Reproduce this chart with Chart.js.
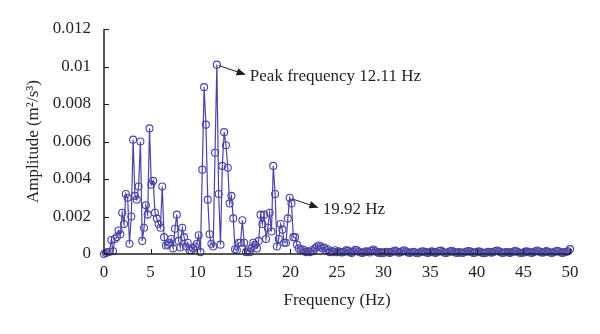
<!DOCTYPE html>
<html>
<head>
<meta charset="utf-8">
<script src="https://cdn.jsdelivr.net/npm/chart.js@4/dist/chart.umd.min.js"></script>
<style>
  html, body { margin: 0; padding: 0; background: #fff; }
</style>
</head>
<body>
<canvas id="mainChart" width="600" height="334"></canvas>
<script>
/*
Amplitude spectrum. One value per FFT bin (0 - 50 Hz).
*/

// spectrum amplitude, m^2/s^3, bins 0..256
var amplitude = [
    // 0 - 9
    0, 0.00005, 0.0001, 0.00012, 0.00075, 0.00015, 0.0008, 0.0009, 0.00125, 0.00105,
    // 10 - 19
    0.0022, 0.0016, 0.0032, 0.003, 0.00055, 0.002, 0.0061, 0.0031, 0.0029, 0.0036,
    // 20 - 29
    0.006, 0.0007, 0.0014, 0.0026, 0.0021, 0.0067, 0.0037, 0.0039, 0.0022, 0.0019,
    // 30 - 39
    0.0016, 0.0014, 0.0036, 0.0009, 0.00045, 0.0005, 0.0006, 0.0008, 0.0003, 0.00135,
    // 40 - 49
    0.0021, 0.0007, 0.00035, 0.0014, 0.0009, 0.0004, 0.0006, 0.0002, 0.0002, 0.0003,
    // 50 - 59
    0.0004, 0.00055, 0.001, 0.0001, 0.0045, 0.0089, 0.0069, 0.0029, 0.00105, 0.00055,
    // 60 - 69
    0.0004, 0.0054, 0.0101, 0.0032, 0.0005, 0.0047, 0.0065, 0.0058, 0.0046, 0.0027,
    // 70 - 79
    0.0031, 0.0019, 0.00025, 0.0002, 0.0006, 0.0006, 0.0018, 0.0006, 0.0001, 0.0002,
    // 80 - 89
    0.0001, 0.0003, 0.0006, 0.0005, 0.0003, 0.0007, 0.0021, 0.0016, 0.0021, 0.0008,
    // 90 - 99
    0.0014, 0.0022, 0.0012, 0.0047, 0.0032, 0.0004, 0.0008, 0.0016, 0.0013, 0.0006,
    // 100 - 109
    0.0006, 0.0019, 0.003, 0.0027, 0.0009, 0.0009, 0.0005, 0.0003, 0.0002, 0.00025,
    // 110 - 119
    0.0002, 0.0001, 0.00015, 0.0001, 0.0002, 0.00015, 0.0003, 0.0004, 0.00045, 0.0004,
    // 120 - 128
    0.0003, 0.00035, 0.0002, 0.00025, 0.0001, 0.00015, 0.0001, 0.0002, 0.0001,
    // 129 - 140
    0.00015, 0.0001, 0.00008, 0.00012, 0.0002, 0.00018, 0.0001, 0.00006, 0.00012, 0.00022, 0.0002, 0.00012,
    // 141 - 152
    0.00008, 0.00005, 0.0001, 0.00015, 0.00012, 0.00008, 0.00018, 0.00024, 0.00016, 0.0001, 0.00006, 0.0001,
    // 153 - 164
    0.00004, 0.00008, 0.00012, 0.0001, 0.00006, 0.00009, 0.00014, 0.00018, 0.00012, 0.00007, 0.0001, 0.00016,
    // 165 - 176
    0.0002, 0.00013, 0.00008, 0.00005, 0.00009, 0.00012, 0.00008, 0.00004, 0.00007, 0.00011, 0.00015, 0.00012,
    // 177 - 188
    0.00008, 0.00006, 0.0001, 0.00014, 0.00011, 0.00006, 0.00009, 0.00016, 0.00018, 0.00012, 0.00007, 0.00005,
    // 189 - 200
    0.00009, 0.00013, 0.00017, 0.00012, 0.00008, 0.00006, 0.0001, 0.00008, 0.00005, 0.00009, 0.00012, 0.00016,
    // 201 - 212
    0.00014, 0.00009, 0.00006, 0.00008, 0.00012, 0.00015, 0.0001, 0.00006, 0.00004, 0.00008, 0.00012, 0.0001,
    // 213 - 224
    0.00007, 0.00011, 0.00016, 0.00019, 0.00014, 0.00009, 0.00006, 0.00008, 0.00011, 0.00009, 0.00006, 0.0001,
    // 225 - 236
    0.00013, 0.00017, 0.00012, 0.00008, 0.00005, 0.00007, 0.0001, 0.00014, 0.00012, 0.00008, 0.00006, 0.0001,
    // 237 - 248
    0.00015, 0.00019, 0.00013, 0.00009, 0.00007, 0.00011, 0.00016, 0.00012, 0.00008, 0.00005, 0.00009, 0.00013,
    // 249 - 256
    0.00017, 0.00013, 0.00008, 0.00006, 0.0001, 0.00012, 0.00015, 0.00026
];

// FFT bin spacing: 100 Hz sampling, 512 points
var binWidth = 100 / 512;
var frequency = amplitude.map(function (v, i) { return i * binWidth; });

// axis ticks
var xTicks = [0, 5, 10, 15, 20, 25, 30, 35, 40, 45, 50];
var yTicks = [0, 0.002, 0.004, 0.006, 0.008, 0.01, 0.012];

// labelled peaks (bin index + text)
var peakBins = [62, 102];
var peakLabels = ['Peak frequency 12.11 Hz', '19.92 Hz'];

var FONT = "'Liberation Serif', 'DejaVu Serif', serif";
var INK = '#231f20';
var LINE = '#4a45a6';

/**
 * Draw axis lines, inward tick marks and the arrow notes.
 */
var decorations = {
    id: 'decorations',
    afterDatasetsDraw: function (chart) {
        var ctx = chart.ctx;
        var xs = chart.scales.x;
        var ys = chart.scales.y;
        var area = chart.chartArea;

        ctx.save();
        ctx.strokeStyle = INK;
        ctx.lineWidth = 1;
        ctx.beginPath();
        xTicks.forEach(function (t) {
            var px = Math.round(xs.getPixelForValue(t)) + 0.5;
            ctx.moveTo(px, area.bottom);
            ctx.lineTo(px, area.bottom - 5);
        });
        yTicks.forEach(function (t) {
            var py = Math.round(ys.getPixelForValue(t)) + 0.5;
            ctx.moveTo(area.left, py);
            ctx.lineTo(area.left + 5, py);
        });
        ctx.stroke();

        // left and bottom axis
        ctx.lineWidth = 1.5;
        ctx.beginPath();
        ctx.moveTo(area.left, area.top);
        ctx.lineTo(area.left, area.bottom);
        ctx.lineTo(area.right, area.bottom);
        ctx.stroke();

        // arrow notes
        ctx.fillStyle = INK;
        ctx.font = '17px ' + FONT;
        ctx.textBaseline = 'middle';
        peakBins.forEach(function (bin, k) {
            var px = xs.getPixelForValue(frequency[bin]);
            var py = ys.getPixelForValue(amplitude[bin]);
            drawArrow(ctx, px + 2, py + 1, px + 29, py + 10);
            ctx.fillText(peakLabels[k], px + 33, py + 12);
        });
        ctx.restore();
    }
};

function drawArrow(ctx, x1, y1, x2, y2) {
    var ang = Math.atan2(y2 - y1, x2 - x1);
    ctx.lineWidth = 1;
    ctx.beginPath();
    ctx.moveTo(x1, y1);
    ctx.lineTo(x2 - 6 * Math.cos(ang), y2 - 6 * Math.sin(ang));
    ctx.stroke();
    ctx.beginPath();
    ctx.moveTo(x2, y2);
    ctx.lineTo(x2 - 10 * Math.cos(ang - 0.38), y2 - 10 * Math.sin(ang - 0.38));
    ctx.lineTo(x2 - 10 * Math.cos(ang + 0.38), y2 - 10 * Math.sin(ang + 0.38));
    ctx.closePath();
    ctx.fill();
}

function spectrum_graph() {
    var ctx = document.getElementById('mainChart').getContext('2d');
    var points = frequency.map(function (f, i) { return { x: f, y: amplitude[i] }; });

    return new Chart(ctx, {
        type: 'line',
        data: {
            datasets: [{
                data: points,
                borderColor: LINE,
                borderWidth: 1.2,
                pointRadius: 3.5,
                pointBorderWidth: 1.1,
                pointBorderColor: LINE,
                pointBackgroundColor: 'rgba(0,0,0,0)',
                tension: 0,
                clip: false
            }]
        },
        options: {
            responsive: false,
            animation: false,
            devicePixelRatio: 1,
            layout: { padding: { top: 29, right: 30, left: 0, bottom: 0 } },
            plugins: {
                legend: { display: false },
                tooltip: { enabled: false }
            },
            scales: {
                x: {
                    type: 'linear',
                    min: 0,
                    max: 50,
                    afterBuildTicks: function (s) { s.ticks = xTicks.map(function (v) { return { value: v }; }); },
                    afterFit: function (s) { s.height = 80; },
                    grid: { display: false, drawTicks: false },
                    border: { display: false },
                    ticks: { font: { family: FONT, size: 17 }, color: INK, padding: 8, maxRotation: 0 },
                    title: {
                        display: true,
                        text: 'Frequency (Hz)',
                        font: { family: FONT, size: 17 },
                        color: INK,
                        padding: { top: 0, bottom: 23 }
                    }
                },
                y: {
                    min: 0,
                    max: 0.012,
                    afterBuildTicks: function (s) { s.ticks = yTicks.map(function (v) { return { value: v }; }); },
                    afterFit: function (s) { s.width = 104; },
                    grid: { display: false, drawTicks: false },
                    border: { display: false },
                    ticks: {
                        font: { family: FONT, size: 17 },
                        color: INK,
                        padding: 13,
                        callback: function (v) { return String(+v.toFixed(3)); }
                    },
                    title: {
                        display: true,
                        text: 'Amplitude (m\u00b2/s\u00b3)',
                        font: { family: FONT, size: 17 },
                        color: INK,
                        padding: { top: 23, bottom: 0 }
                    }
                }
            }
        },
        plugins: [decorations]
    });
}

spectrum_graph();
</script>
</body>
</html>
